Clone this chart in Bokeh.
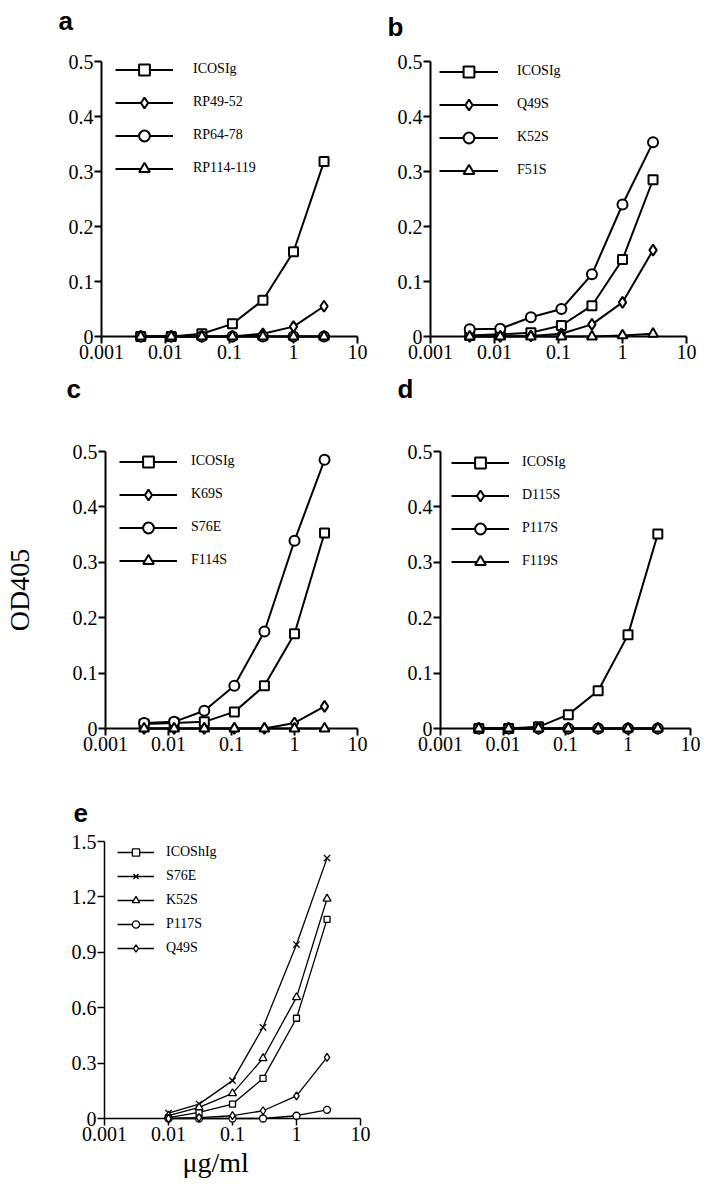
from bokeh.plotting import figure
from bokeh.models import (FixedTicker, PrintfTickFormatter, Legend, LegendItem,
                          Range1d, Title)
from bokeh.layouts import column, row
from bokeh.embed import file_html
from bokeh.resources import INLINE

# ---------------- data ----------------
conc = [0.0041, 0.0123, 0.037, 0.111, 0.333, 1.0, 3.0]
conc_e = [0.01, 0.03, 0.1, 0.3, 1.0, 3.0]

x_ticks = [0.001, 0.01, 0.1, 1, 10]
y_ticks_ad = [0, 0.1, 0.2, 0.3, 0.4, 0.5]
y_ticks_e = [0, 0.3, 0.6, 0.9, 1.2, 1.5]

a_names = ["ICOSIg", "RP49-52", "RP64-78", "RP114-119"]
a_icosig = [0.0, 0.0, 0.005, 0.023, 0.066, 0.154, 0.318]
a_rp49_52 = [0.0, 0.0, 0.0, 0.0, 0.005, 0.018, 0.055]
a_rp64_78 = [0.0, 0.0, 0.0, 0.0, 0.0, 0.0, 0.0]
a_rp114_119 = [0.0, 0.0, 0.0, 0.0, 0.0, 0.0, 0.0]

b_names = ["ICOSIg", "Q49S", "K52S", "F51S"]
b_icosig = [0.002, 0.004, 0.007, 0.020, 0.056, 0.140, 0.285]
b_q49s = [0.0, 0.0, 0.001, 0.005, 0.022, 0.062, 0.157]
b_k52s = [0.013, 0.014, 0.035, 0.050, 0.113, 0.240, 0.353]
b_f51s = [0.0, 0.0, 0.0, 0.0, 0.0, 0.002, 0.005]

c_names = ["ICOSIg", "K69S", "S76E", "F114S"]
c_icosig = [0.008, 0.010, 0.012, 0.030, 0.077, 0.171, 0.353]
c_k69s = [0.0, 0.0, 0.0, 0.0, 0.0, 0.010, 0.040]
c_s76e = [0.010, 0.012, 0.032, 0.077, 0.175, 0.339, 0.485]
c_f114s = [0.0, 0.0, 0.0, 0.0, 0.0, 0.0, 0.0]

d_names = ["ICOSIg", "D115S", "P117S", "F119S"]
d_icosig = [0.0, 0.0, 0.003, 0.025, 0.068, 0.169, 0.351]
d_d115s = [0.0, 0.0, 0.0, 0.0, 0.0, 0.0, 0.0]
d_p117s = [0.0, 0.0, 0.0, 0.0, 0.0, 0.0, 0.0]
d_f119s = [0.0, 0.0, 0.0, 0.0, 0.0, 0.0, 0.0]

e_names = ["ICOShIg", "S76E", "K52S", "P117S", "Q49S"]
e_icoshig = [0.005, 0.033, 0.078, 0.217, 0.543, 1.078]
e_s76e = [0.029, 0.078, 0.205, 0.494, 0.942, 1.41]
e_k52s = [0.015, 0.060, 0.136, 0.326, 0.656, 1.19]
e_p117s = [0.0, 0.0, 0.0, 0.0, 0.015, 0.047]
e_q49s = [0.0, 0.005, 0.015, 0.042, 0.123, 0.331]

panel_letters = ["a", "b", "c", "d", "e"]
y_title = "OD405"
x_title = "\u03bcg/ml"

SERIF = "Liberation Serif"
SANS = "Liberation Sans"

MK = {"square": 9, "diamond": 11, "circle": 10, "triangle": 10, "x": 9}
MK_E = {"square": 6, "diamond": 8, "circle": 7, "triangle": 8, "x": 9}


def make_panel(letter, xs, series, width, height, bl, br, bt, bb,
               ymax, yticks, mk, lw, leg, letter_off, gap, axis_lw):
    p = figure(width=width, height=height, x_axis_type="log",
               x_range=Range1d(0.001, 10), y_range=Range1d(0, ymax),
               output_backend="svg", toolbar_location=None, tools="",
               min_border_left=bl, min_border_right=br,
               min_border_top=bt, min_border_bottom=bb)
    p.outline_line_color = None
    p.grid.visible = False
    p.background_fill_color = "white"
    p.border_fill_color = "white"

    for ax in (p.xaxis[0], p.yaxis[0]):
        ax.axis_line_width = axis_lw
        ax.axis_line_color = "black"
        ax.major_tick_line_width = axis_lw
        ax.major_tick_line_color = "black"
        ax.major_tick_in = 0
        ax.major_tick_out = 7
        ax.minor_tick_line_color = None
        ax.major_label_text_font = SERIF
        ax.major_label_text_font_size = "20px"
        ax.major_label_text_color = "black"
        ax.major_label_standoff = 1
    p.xaxis.ticker = FixedTicker(ticks=x_ticks)
    p.xaxis.formatter = PrintfTickFormatter(format="%g")
    p.yaxis.ticker = FixedTicker(ticks=yticks)
    p.yaxis.formatter = PrintfTickFormatter(format="%g")

    items = []
    for name, ys, m in series:
        lr = p.line(xs, ys, line_color="black", line_width=lw, level="overlay")
        sr = p.scatter(xs, ys, marker=m, size=mk[m],
                       fill_color="white", line_color="black",
                       line_width=lw, level="overlay")
        items.append(LegendItem(label=name, renderers=[lr, sr]))

    vx, vy, gw, gh, spacing, standoff, fs = leg
    legend = Legend(items=items, location=(vx, vy), glyph_width=gw,
                    glyph_height=gh, label_height=gh, spacing=spacing,
                    label_standoff=standoff, padding=0, margin=0,
                    border_line_color=None, background_fill_alpha=0,
                    label_text_font=SERIF, label_text_font_size=fs,
                    label_text_color="black")
    p.add_layout(legend)

    # spacer between frame and panel letter, then the letter itself
    p.add_layout(Title(text=" ", text_font_size="1px", standoff=gap), "above")
    p.add_layout(Title(text=letter, align="left", offset=letter_off,
                       standoff=0, text_font=SANS, text_font_size="26px",
                       text_font_style="bold", text_color="black"), "above")
    return p


fa = make_panel(panel_letters[0], conc,
                [(a_names[0], a_icosig, "square"),
                 (a_names[1], a_rp49_52, "diamond"),
                 (a_names[2], a_rp64_78, "circle"),
                 (a_names[3], a_rp114_119, "triangle")],
                380, 368, 101, 23, 59, 32, 0.5, y_ticks_ad, MK, 2.0,
                (14, 154.5, 58, 27, 6, 20, "14px"), -43, 23, 2.0)

fb = make_panel(panel_letters[1], conc,
                [(b_names[0], b_icosig, "square"),
                 (b_names[1], b_q49s, "diamond"),
                 (b_names[2], b_k52s, "circle"),
                 (b_names[3], b_f51s, "triangle")],
                328, 368, 50, 22, 61, 32, 0.5, y_ticks_ad, MK, 2.0,
                (9, 152.5, 59, 27, 6, 19, "14px"), -43, 17, 2.0)

fc = make_panel(panel_letters[2], conc,
                [(c_names[0], c_icosig, "square"),
                 (c_names[1], c_k69s, "diamond"),
                 (c_names[2], c_s76e, "circle"),
                 (c_names[3], c_f114s, "triangle")],
                380, 402, 101, 23, 83, 42, 0.5, y_ticks_ad, MK, 2.0,
                (14, 154.5, 58, 27, 6, 14, "14px"), -39, 45, 2.0)

fd = make_panel(panel_letters[3], conc,
                [(d_names[0], d_icosig, "square"),
                 (d_names[1], d_d115s, "diamond"),
                 (d_names[2], d_p117s, "circle"),
                 (d_names[3], d_f119s, "triangle")],
                328, 402, 60, 18, 83, 42, 0.5, y_ticks_ad, MK, 2.0,
                (11, 153.5, 58, 27, 6, 13, "14px"), -43, 45, 2.0)

fe = make_panel(panel_letters[4], conc_e,
                [(e_names[0], e_icoshig, "square"),
                 (e_names[1], e_s76e, "x"),
                 (e_names[2], e_k52s, "triangle"),
                 (e_names[3], e_p117s, "circle"),
                 (e_names[4], e_q49s, "diamond")],
                380, 422, 104, 20, 71, 74, 1.5, y_ticks_e, MK_E, 1.3,
                (13, 161, 37, 18, 6, 12, "14px"), -31, 17, 1.5)

fc.yaxis.axis_label = y_title
fc.yaxis.axis_label_standoff = 35
fc.yaxis.axis_label_text_font = SERIF
fc.yaxis.axis_label_text_font_size = "28px"
fc.yaxis.axis_label_text_font_style = "normal"
fc.yaxis.axis_label_text_color = "black"

fe.add_layout(Title(text=x_title, align="left", offset=78, text_font=SERIF,
                    text_font_size="28px", text_font_style="normal",
                    text_color="black", standoff=2), "below")

layout = column(row(fa, fb), row(fc, fd), row(fe))
open("out.html", "w").write(file_html(layout, INLINE))
